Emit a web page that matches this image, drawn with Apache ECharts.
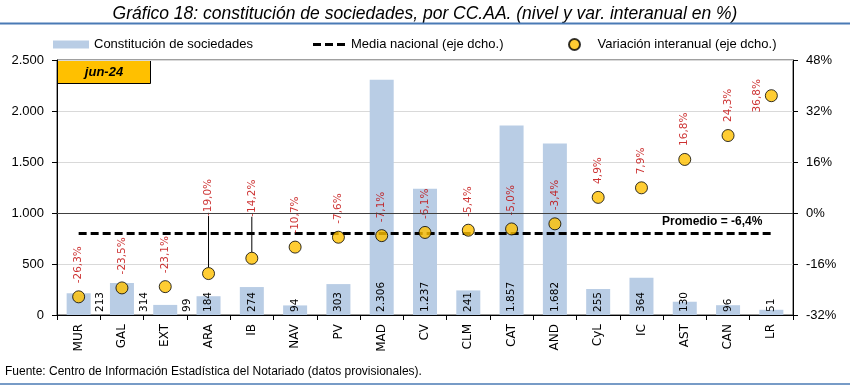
<!DOCTYPE html>
<html>
<head>
<meta charset="utf-8">
<script src="https://cdn.jsdelivr.net/npm/echarts@6/dist/echarts.min.js"></script>
<style>
html,body{margin:0;padding:0;background:#fff;}
#c{width:850px;height:386px;}
</style>
</head>
<body>
<div id="c"></div>
<script>
const categorias = ['MUR','GAL','EXT','ARA','IB','NAV','PV','MAD','CV','CLM','CAT','AND','CyL','IC','AST','CAN','LR'];
const constitucion = [213,314,99,184,274,94,303,2306,1237,241,1857,1682,255,364,130,96,51];
const variacion = [-26.3,-23.5,-23.1,-19.0,-14.2,-10.7,-7.6,-7.1,-6.1,-5.4,-5.0,-3.4,4.9,7.9,16.8,24.3,36.8];
const mediaNacional = [-6.4,-6.4,-6.4,-6.4,-6.4,-6.4,-6.4,-6.4,-6.4,-6.4,-6.4,-6.4,-6.4,-6.4,-6.4,-6.4,-6.4];
const ejeIzq = {min: 0, max: 2500, interval: 500};
const ejeDer = {min: -32, max: 48, interval: 16};
const lineaReferencia = 1000;
const titulo = 'Gráfico 18: constitución de sociedades, por CC.AA. (nivel y var. interanual en %)';
const fuente = 'Fuente: Centro de Información Estadística del Notariado (datos provisionales).';
const etiquetaFecha = 'jun-24';
const etiquetaPromedio = 'Promedio = -6,4%';
const nombres = ['Constitución de sociedades', 'Media nacional (eje dcho.)', 'Variación interanual (eje dcho.)'];

const miles = v => String(v).replace(/\B(?=(\d{3})+(?!\d))/g, '.');
const pct1 = v => v.toFixed(1).replace('.', ',') + '%';

const chart = echarts.init(document.getElementById('c'), null, {renderer: 'canvas'});

const barData = constitucion.map((v, i) => {
  const d = {value: v};
  if (i < 3) d.label = {offset: [0, 22]};
  return d;
});

const dotData = variacion.map((v, i) => {
  const d = {value: [categorias[i], v]};
  if (i === 3) { d.label = {distance: 51}; d.labelLine = {show: true}; }
  if (i === 4) { d.label = {distance: 35}; d.labelLine = {show: true}; }
  if (i === categorias.length - 1) d.label = {position: 'left', align: 'center', verticalAlign: 'middle', distance: 8};
  return d;
});

const lineData = mediaNacional.map((v, i) => {
  const d = {value: v};
  if (i === mediaNacional.length - 1) {
    d.label = {show: true, position: 'left', distance: 9, offset: [0, -12], formatter: etiquetaPromedio,
      fontFamily: 'Liberation Sans', fontWeight: 'bold', fontSize: 12, color: '#000'};
  }
  return d;
});

const legendText = {fontFamily: 'Liberation Sans', fontSize: 13, color: '#000'};

chart.setOption({
  animation: false,
  backgroundColor: '#fff',
  grid: {left: 57, right: 57, top: 60, bottom: 71, show: true, borderColor: '#404040', borderWidth: 1, backgroundColor: 'transparent'},
  legend: [
    {data: [{name: nombres[0], icon: 'rect'}], left: 53, top: 38, padding: 0, itemWidth: 36, itemHeight: 8, textStyle: legendText, selectedMode: false},
    {data: [{name: nombres[1], icon: 'path://M0,0h8v3h-8z M12,0h8v3h-8z M24,0h8v3h-8z'}], left: 313, top: 38, padding: 0, itemWidth: 34, itemHeight: 3, textStyle: legendText, selectedMode: false},
    {data: [{name: nombres[2], icon: 'circle'}], left: 568, top: 38, padding: 0, itemWidth: 36, itemHeight: 11, textStyle: legendText, selectedMode: false}
  ],
  xAxis: {
    type: 'category', data: categorias, boundaryGap: true,
    axisLine: {lineStyle: {color: '#000', width: 1}},
    axisTick: {show: true, length: 5, lineStyle: {color: '#000'}},
    axisLabel: {rotate: 90, margin: 9, fontFamily: 'DejaVu Sans', fontSize: 12, color: '#000'}
  },
  yAxis: [
    {type: 'value', min: ejeIzq.min, max: ejeIzq.max, interval: ejeIzq.interval, position: 'left',
      axisLine: {show: true, lineStyle: {color: '#000'}},
      axisTick: {show: true, length: 5, lineStyle: {color: '#000'}},
      splitLine: {show: true, lineStyle: {color: '#d9d9d9', width: 1}},
      axisLabel: {formatter: miles, margin: 13, fontFamily: 'Liberation Sans', fontSize: 13, color: '#000'}},
    {type: 'value', min: ejeDer.min, max: ejeDer.max, interval: ejeDer.interval, position: 'right',
      axisLine: {show: true, lineStyle: {color: '#000'}},
      axisTick: {show: true, length: 5, lineStyle: {color: '#000'}},
      splitLine: {show: false},
      axisLabel: {formatter: v => v + '%', margin: 13, fontFamily: 'Liberation Sans', fontSize: 13, color: '#000'}}
  ],
  series: [
    {name: nombres[0], type: 'bar', yAxisIndex: 0, data: barData, barWidth: 24,
      itemStyle: {color: '#b9cde5'},
      label: {show: true, position: 'insideBottom', rotate: 90, align: 'left', verticalAlign: 'middle', distance: 3,
        formatter: p => miles(p.value), fontFamily: 'DejaVu Sans', fontSize: 10.5, color: '#000'},
      markLine: {silent: true, symbol: 'none', label: {show: false},
        lineStyle: {color: '#404040', width: 1, type: 'solid'}, data: [{yAxis: lineaReferencia}]}
    },
    {name: nombres[1], type: 'line', yAxisIndex: 1, data: lineData, symbol: 'circle', symbolSize: 0, showSymbol: true,
      lineStyle: {color: '#000', width: 3, type: [8, 4]}, itemStyle: {color: '#000'}, z: 3},
    {name: nombres[2], type: 'scatter', yAxisIndex: 1, data: dotData, symbolSize: 12, z: 4,
      itemStyle: {color: '#ffc000', borderColor: '#000', borderWidth: 1},
      label: {show: true, position: 'top', rotate: 90, align: 'left', verticalAlign: 'middle', distance: 7,
        formatter: p => pct1(p.value[1]), fontFamily: 'DejaVu Sans', fontSize: 10.5, color: '#c00000'},
      labelLine: {show: false, lineStyle: {color: '#000', width: 1}}
    }
  ],
  graphic: [
    {type: 'text', left: 'center', top: 5, style: {text: titulo, font: 'italic 17.5px "Liberation Sans"', fill: '#000'}},
    {type: 'line', shape: {x1: 0, y1: 23.5, x2: 850, y2: 23.5}, style: {stroke: '#4a7ab5', lineWidth: 2}},
    {type: 'line', shape: {x1: 0, y1: 384, x2: 850, y2: 384}, style: {stroke: '#4a7ab5', lineWidth: 1.5}},
    {type: 'text', left: 5, top: 366, style: {text: fuente, font: '12px "Liberation Sans"', fill: '#000'}},
    {type: 'group', left: 57, top: 60, z: 10, children: [
      {type: 'rect', shape: {x: 0, y: 0, width: 93, height: 23}, style: {fill: '#ffc000', stroke: '#000', lineWidth: 1}},
      {type: 'text', x: 46.5, y: 11.5, style: {text: etiquetaFecha, font: 'italic bold 13px "Liberation Sans"', fill: '#000', align: 'center', verticalAlign: 'middle'}}
    ]}
  ]
});
</script>
</body>
</html>
